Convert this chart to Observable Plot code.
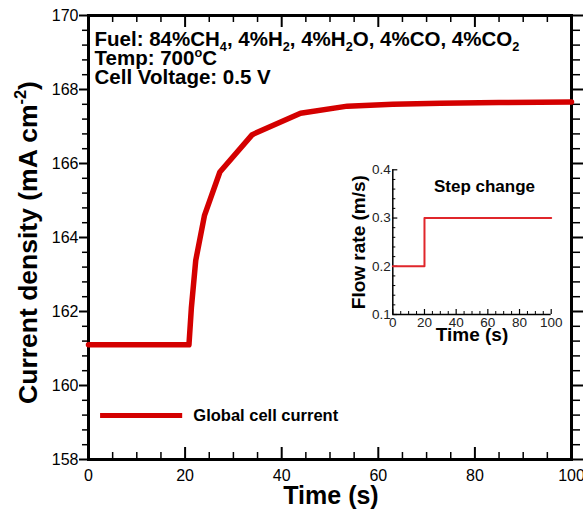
<!DOCTYPE html>
<html><head><meta charset="utf-8">
<script src="https://cdn.jsdelivr.net/npm/d3@7"></script>
<script src="https://cdn.jsdelivr.net/npm/@observablehq/plot@0.6"></script>
<style>
body{margin:0;background:#fff;}
#wrap{position:relative;width:583px;height:512px;font-family:"Liberation Sans",Arial,sans-serif;}
#wrap svg{position:absolute;overflow:visible;}
</style></head><body><div id="wrap"></div>
<script>
// ---- data ----
const times   = [0, 20.8, 21.3, 22.2, 24.0, 27.2, 33.9, 43.9, 53.6, 63, 72.9, 85, 100];
const current = [161.1, 161.1, 162.1, 163.38, 164.59, 165.77, 166.78, 167.36, 167.55, 167.6, 167.63, 167.65, 167.66];
const seriesName = "Global cell current";
const flowTimes = [0, 20, 100];
const flowRates = [0.2, 0.3, 0.3];
const xTicks = [0, 20, 40, 60, 80, 100];
const yTicks = [158, 160, 162, 164, 166, 168, 170];
const insetXTicks = [0, 20, 40, 60, 80, 100];
const insetYTicks = [0.1, 0.2, 0.3, 0.4];
const titleLines = ["Fuel: 84%CH_{4}, 4%H_{2}, 4%H_{2}O, 4%CO, 4%CO_{2}", "Temp: 700^{o}C", "Cell Voltage: 0.5 V"];
const xLabel = "Time (s)";
const yLabel = "Current density (mA cm^{-2})";
const insetXLabel = "Time (s)";
const insetYLabel = "Flow rate (m/s)";
const insetTitle = "Step change";

// ---- layout ----
const FONT = '"Liberation Sans", Arial, sans-serif';
const W = 583, H = 512, mL = 88, mR = 12, mT = 15, mB = 53;
const fw = W - mL - mR, fh = H - mT - mB;
const red = "#d40000";
const data = times.map((t, i) => ({t, v: current[i]}));
const xMinor = d3.range(0, 101, 5).filter(d => d % 20 !== 0);
const yMinor = d3.range(0, 31).map(k => +(158 + k * 0.4).toFixed(1)).filter(d => Math.abs(d / 2 - Math.round(d / 2)) > 1e-6);
const legendY = 159.19;

const main = Plot.plot({
  width: W, height: H, marginLeft: mL, marginRight: mR, marginTop: mT, marginBottom: mB,
  style: {fontFamily: FONT, fontSize: "16px", color: "#000", background: "transparent"},
  x: {domain: [0, 100]},
  y: {domain: [158, 170]},
  marks: [
    Plot.axisY({ticks: yTicks, tickSize: 9, tickPadding: 1, strokeWidth: 2, label: null, fontSize: 16}),
    Plot.axisY({ticks: yMinor, tickSize: 6, tickFormat: () => "", strokeWidth: 1.5, label: null}),
    Plot.axisY({anchor: "right", ticks: yTicks, tickSize: 11, tickFormat: () => "", strokeWidth: 2, label: null}),
    Plot.axisY({anchor: "right", ticks: yMinor, tickSize: 8, tickFormat: () => "", strokeWidth: 1.5, label: null}),
    Plot.axisX({ticks: xTicks, tickSize: 0, tickPadding: 10, label: null, fontSize: 16}),
    Plot.tickX(xTicks, {x: d => d, insetTop: fh - 12, strokeWidth: 2}),
    Plot.tickX(xMinor, {x: d => d, insetTop: fh - 7, strokeWidth: 1.5}),
    Plot.tickX(xTicks, {x: d => d, insetBottom: fh - 12, strokeWidth: 2}),
    Plot.tickX(xMinor, {x: d => d, insetBottom: fh - 7, strokeWidth: 1.5}),
    Plot.frame({strokeWidth: 3}),
    Plot.line(data, {x: "t", y: "v", stroke: red, strokeWidth: 5.5}),
    Plot.ruleY([legendY], {x1: 2.5, x2: 19.5, stroke: red, strokeWidth: 5}),
    Plot.text([seriesName], {x: 21.7, y: legendY, text: d => d, textAnchor: "start", fontSize: 16.5, fontWeight: "bold"}),
    ...titleLines.map((s, i) => Plot.text([s], {frameAnchor: "top-left", dx: 6, dy: 30 + i * 19.3, text: d => d, lineAnchor: "bottom", fontSize: 20.5, fontWeight: "bold"})),
    Plot.text([yLabel], {frameAnchor: "left", dx: -60, dy: 5, rotate: -90, text: d => d, textAnchor: "middle", fontSize: 26.5, fontWeight: "bold"}),
    Plot.text([xLabel], {frameAnchor: "bottom", dx: 1, dy: 44, text: d => d, lineAnchor: "bottom", fontSize: 25, fontWeight: "bold"})
  ]
});
main.style.left = "0px"; main.style.top = "0px";

// ---- inset ----
const iW = 220, iH = 200, imL = 52.3, imR = 9.3, imT = 19.3, imB = 36;
const ifw = iW - imL - imR, ifh = iH - imT - imB;
const flow = flowTimes.map((t, i) => ({t, r: flowRates[i]}));
const iXMinor = d3.range(0, 101, 5).filter(d => d % 20 !== 0);
const iYMinor = d3.range(0, 16).map(k => +(0.1 + k * 0.02).toFixed(2)).filter(d => Math.abs(d * 10 - Math.round(d * 10)) > 1e-6);
const inset = Plot.plot({
  width: iW, height: iH, marginLeft: imL, marginRight: imR, marginTop: imT, marginBottom: imB,
  style: {fontFamily: FONT, fontSize: "13px", color: "#000", background: "transparent"},
  x: {domain: [0, 100]},
  y: {domain: [0.1, 0.4]},
  marks: [
    Plot.axisY({ticks: insetYTicks, tickSize: 0, tickPadding: 2, tickFormat: d3.format(".1f"), label: null, fontSize: 13.5, fill: "#222"}),
    Plot.axisX({ticks: insetXTicks, tickSize: 0, tickPadding: 3, label: null, fontSize: 13.5, fill: "#222"}),
    Plot.tickY(insetYTicks, {y: d => d, insetRight: ifw - 5, strokeWidth: 1.2}),
    Plot.tickY(iYMinor, {y: d => d, insetRight: ifw - 3, strokeWidth: 1}),
    Plot.tickX(insetXTicks, {x: d => d, insetTop: ifh - 5, strokeWidth: 1.2}),
    Plot.tickX(iXMinor, {x: d => d, insetTop: ifh - 3, strokeWidth: 1}),
    Plot.ruleX([0], {strokeWidth: 1.5}),
    Plot.ruleY([0.1], {strokeWidth: 1.5}),
    Plot.line(flow, {x: "t", y: "r", curve: "step-after", stroke: "#e0262b", strokeWidth: 2}),
    Plot.text([insetTitle], {frameAnchor: "top", dx: 12.5, dy: 9.7, text: d => d, fontSize: 17, fontWeight: "bold"}),
    Plot.text([insetYLabel], {frameAnchor: "left", dx: -34, rotate: -90, text: d => d, textAnchor: "middle", fontSize: 19, fontWeight: "bold"}),
    Plot.text([insetXLabel], {frameAnchor: "bottom", dy: 26.7, text: d => d, lineAnchor: "bottom", fontSize: 19, fontWeight: "bold"})
  ]
});
inset.style.left = "340px"; inset.style.top = "150px";

const wrap = document.getElementById("wrap");
wrap.appendChild(main);
wrap.appendChild(inset);

// ---- rich text: _{sub} and ^{sup} ----
function rich(svg) {
  svg.querySelectorAll("text").forEach(el => {
    const raw = el.textContent;
    if (!/[_^]\{/.test(raw)) return;
    const fs = parseFloat(getComputedStyle(el).fontSize);
    const parts = raw.split(/([_^]\{[^}]*\})/).filter(s => s.length);
    while (el.firstChild) el.removeChild(el.firstChild);
    let shift = 0;
    parts.forEach(p => {
      let kind = null, s = p;
      if (p[0] === "_" && p[1] === "{") { kind = "sub"; s = p.slice(2, -1); }
      else if (p[0] === "^" && p[1] === "{") { kind = "sup"; s = p.slice(2, -1); }
      const ts = document.createElementNS("http://www.w3.org/2000/svg", "tspan");
      ts.textContent = s;
      const target = kind === "sub" ? 0.28 * fs : kind === "sup" ? -0.4 * fs : 0;
      const d = target - shift;
      if (Math.abs(d) > 1e-6) ts.setAttribute("dy", d.toFixed(2));
      if (kind) ts.setAttribute("font-size", (0.62 * fs).toFixed(2));
      shift = target;
      el.appendChild(ts);
    });
  });
}
rich(main);
</script>
</body></html>
